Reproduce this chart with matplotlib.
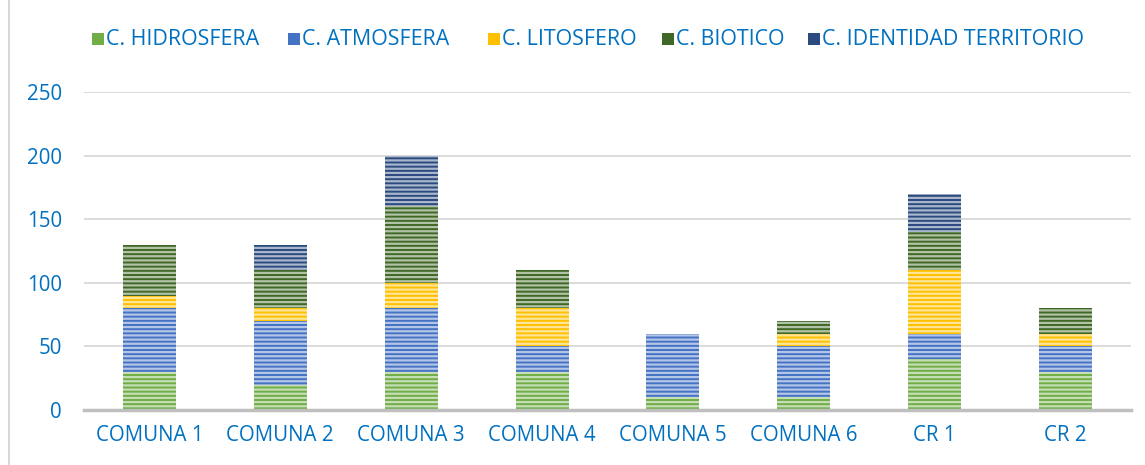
import numpy as np
import matplotlib
matplotlib.use('Agg')
import matplotlib.pyplot as plt
from matplotlib.lines import Line2D
from matplotlib.patches import Rectangle

# Data
categories = ['COMUNA 1', 'COMUNA 2', 'COMUNA 3', 'COMUNA 4', 'COMUNA 5', 'COMUNA 6', 'CR 1', 'CR 2']
hidrosfera = [30, 20, 30, 30, 10, 10, 40, 30]
atmosfera = [50, 50, 50, 20, 50, 40, 20, 20]
litosfero = [10, 10, 20, 30, 0, 10, 50, 10]
biotico = [40, 30, 60, 30, 0, 10, 30, 20]
identidad = [0, 20, 40, 0, 0, 0, 30, 0]

series_names = ['C. HIDROSFERA', 'C. ATMOSFERA', 'C. LITOSFERO', 'C. BIOTICO', 'C. IDENTIDAD TERRITORIO']
series_colors = ['#70AD47', '#4472C4', '#FFC000', '#3F6826', '#2B4A80']

plt.rcParams['font.family'] = ['Open Sans', 'DejaVu Sans']
plt.rcParams['hatch.linewidth'] = 1.6
text_blue = '#0070C0'
W, H = 1145, 465

fig = plt.figure(figsize=(11.45, 4.65), dpi=100)
ax = fig.add_axes([84 / W, 1 - 410 / H, (1131 - 84) / W, (410 - 92) / H])

x = np.arange(len(categories))
bottom = np.zeros(len(categories))
all_series = [hidrosfera, atmosfera, litosfero, biotico, identidad]
for name, vals, col in zip(series_names, all_series, series_colors):
    vals = np.array(vals, dtype=float)
    ax.bar(x, vals, width=0.405, bottom=bottom, color=col, edgecolor=(1, 1, 1, 0.6),
           linewidth=0, hatch='----', label=name, zorder=3)
    bottom += vals

ax.set_xlim(-0.5, len(categories) - 0.5)
ax.set_ylim(0, 250)
ax.set_yticks(np.arange(0, 251, 50))
ax.yaxis.grid(True, color='#D9D9D9', linewidth=1.3, zorder=0)
ax.set_axisbelow(True)
for s in ['top', 'right', 'left']:
    ax.spines[s].set_visible(False)
ax.spines['bottom'].set_color('#BFBFBF')
ax.spines['bottom'].set_linewidth(2.5)
ax.spines['bottom'].set_zorder(4)
ax.set_xticks(x)
ax.set_xticklabels(categories)
ax.tick_params(axis='both', length=0, labelcolor=text_blue, labelsize=14.8)
ax.tick_params(axis='x', pad=11)
ax.tick_params(axis='y', pad=16)

# legend across the top, entries placed like the original
legend_x = [92, 288, 488, 662, 808]
for lx, name, col in zip(legend_x, series_names, series_colors):
    fig.add_artist(Rectangle((lx / W, 1 - 45 / H), 12 / W, 12 / H, facecolor=col,
                             edgecolor='none', transform=fig.transFigure))
    fig.text((lx + 14) / W, 1 - 39.5 / H, name, color=text_blue, fontsize=15.4,
             ha='left', va='center')

# thin frame line on the left edge
fig.add_artist(Line2D([8.5 / W, 8.5 / W], [0, 1], color='#D9D9D9', linewidth=1.5,
                      transform=fig.transFigure))

fig.savefig('out.png', dpi=100)
